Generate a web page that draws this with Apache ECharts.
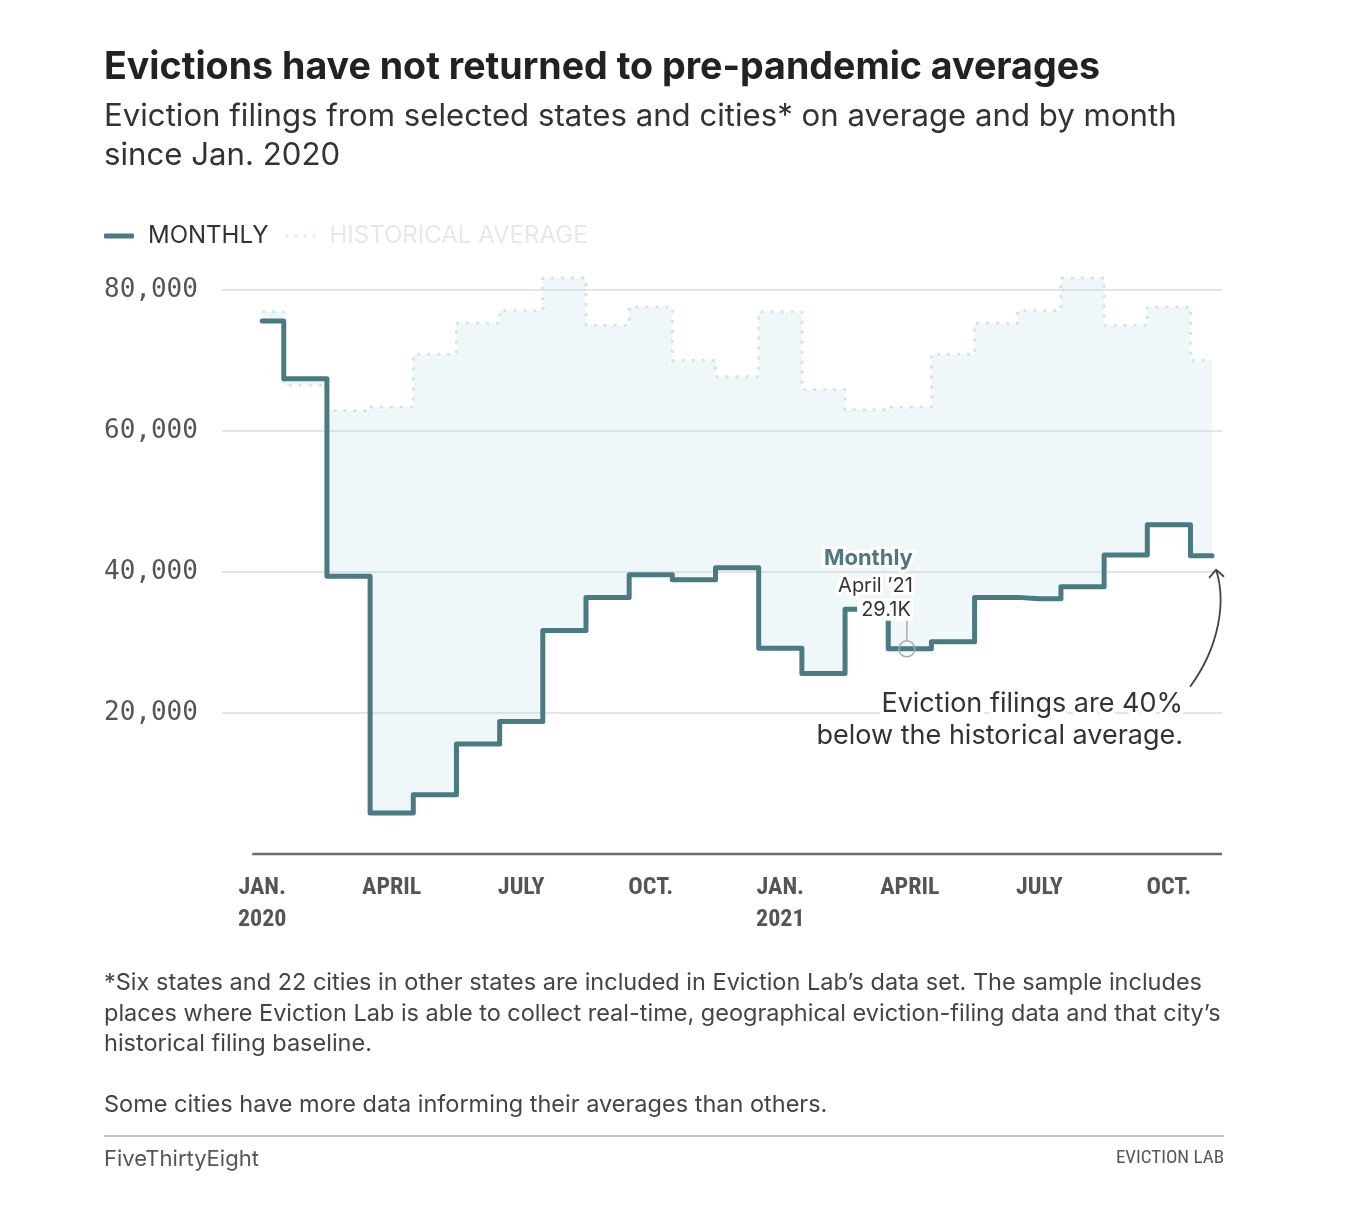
<!DOCTYPE html>
<html>
<head>
<meta charset="utf-8">
<script src="https://cdn.jsdelivr.net/npm/echarts@6/dist/echarts.min.js"></script>
<style>
html,body{margin:0;padding:0;background:#fff;}
#chart{width:1348px;height:1220px;}
</style>
</head>
<body>
<div id="chart"></div>
<script>
// ---- Data ----
const months = ['Jan 2020','Feb 2020','Mar 2020','Apr 2020','May 2020','Jun 2020','Jul 2020','Aug 2020','Sep 2020','Oct 2020','Nov 2020','Dec 2020',
                'Jan 2021','Feb 2021','Mar 2021','Apr 2021','May 2021','Jun 2021','Jul 2021','Aug 2021','Sep 2021','Oct 2021','Nov 2021'];
const monthly = [75600, 67400, 39400, 5800, 8400, 15600, 18800, 31700, 36400, 39600, 38900, 40600,
                 29200, 25600, 34700, 29100, 30100, 36400, 36200, 37900, 42400, 46700, 42300];
const historical = [76900, 66500, 62900, 63400, 70900, 75300, 77100, 81700, 75000, 77600, 70000, 67700,
                    76900, 65900, 63000, 63400, 70900, 75300, 77100, 81700, 75000, 77600, 70000];
const xTickIndex = [0, 3, 6, 9, 12, 15, 18, 21];
const xTickLabels = ['JAN.\n2020', 'APRIL', 'JULY', 'OCT.', 'JAN.\n2021', 'APRIL', 'JULY', 'OCT.'];
const highlightIndex = 15;           // April '21
const highlightLabel = ['Monthly', 'April ’21', '29.1K'];

// ---- Styles ----
const TEAL = '#4a7a82';
const HIST = '#d2e6ea';
const FILL = 'rgba(175,215,225,0.19)';
const SANS = "Inter, Roboto, sans-serif";
const COND = "'Liberation Sans Narrow', 'Roboto Condensed', Roboto, sans-serif";
const MONO = "'DejaVu Sans Mono', monospace";

function stepPts(vals) {
  const pts = [];
  const n = vals.length;
  for (let i = 0; i < n; i++) {
    const x0 = Math.max(0, i - 0.5), x1 = Math.min(n - 1, i + 0.5);
    pts.push([x0, vals[i]]);
    pts.push([x1, vals[i]]);
  }
  return pts;
}

const chart = echarts.init(document.getElementById('chart'), null, {renderer: 'canvas'});

const option = {
  backgroundColor: '#fff',
  animation: false,
  title: [
    {text: 'Evictions have not returned to pre-pandemic averages', left: 104, top: 48, padding: 0,
     textStyle: {fontFamily: SANS, fontWeight: 'bold', fontSize: 37.6, lineHeight: 40, color: '#222'}},
    {text: 'Eviction filings from selected states and cities* on average and by month\nsince Jan. 2020', left: 104, top: 97, padding: 0,
     textStyle: {fontFamily: SANS, fontWeight: 'normal', fontSize: 31.2, lineHeight: 39, color: '#333'}},
    {text: '*Six states and 22 cities in other states are included in Eviction Lab’s data set. The sample includes\nplaces where Eviction Lab is able to collect real-time, geographical eviction-filing data and that city’s\nhistorical filing baseline.',
     left: 104, top: 968, padding: 0,
     textStyle: {fontFamily: SANS, fontWeight: 'normal', fontSize: 23.5, lineHeight: 30.5, color: '#444'}},
    {text: 'Some cities have more data informing their averages than others.', left: 104, top: 1090, padding: 0,
     textStyle: {fontFamily: SANS, fontWeight: 'normal', fontSize: 23.5, lineHeight: 30, color: '#444'}},
    {text: 'FiveThirtyEight', left: 104, top: 1147, padding: 0,
     textStyle: {fontFamily: SANS, fontWeight: 'normal', fontSize: 22, lineHeight: 24, color: '#555'}},
    {text: 'EVICTION LAB', right: 124, top: 1146, padding: 0,
     textStyle: {fontFamily: COND, fontWeight: 'normal', fontSize: 19, lineHeight: 24, color: '#555'}}
  ],
  legend: {
    left: 104, top: 224, padding: 0, itemWidth: 30, itemHeight: 5, itemGap: 17,
    selectedMode: false,
    data: [
      {name: 'MONTHLY', icon: 'roundRect', itemStyle: {color: TEAL}, textStyle: {color: '#333'}},
      {name: 'HISTORICAL AVERAGE', icon: 'path://M0,0h3v3h-3z M9,0h3v3h-3z M18,0h3v3h-3z M27,0h3v3h-3z',
       itemStyle: {color: '#e2eff2'}, textStyle: {color: '#e4eaec'}}
    ],
    textStyle: {fontFamily: SANS, fontSize: 24, padding: [0, 0, 0, 9]}
  },
  grid: {left: 222, right: 126, top: 290, bottom: 366},
  xAxis: {
    type: 'value', min: -0.93, max: 22.23,
    axisLine: {show: false}, axisTick: {show: false}, splitLine: {show: false},
    axisLabel: {
      customValues: xTickIndex,
      formatter: v => { const k = xTickIndex.indexOf(Math.round(v)); return k >= 0 ? xTickLabels[k] : ''; },
      margin: 18, fontFamily: COND, fontWeight: 'bold', fontSize: 24, lineHeight: 32, color: '#555'
    }
  },
  yAxis: {
    type: 'value', min: 0, max: 80000, interval: 20000,
    axisLine: {show: false}, axisTick: {show: false},
    splitLine: {show: true, showMinLine: false, lineStyle: {color: '#dcdcdc', width: 1.5}},
    axisLabel: {
      align: 'left', margin: 118, fontFamily: MONO, fontSize: 26, color: '#555',
      formatter: v => v === 0 ? '' : v.toLocaleString('en-US')
    }
  },
  series: [
    {
      type: 'custom', name: 'fill', coordinateSystem: 'cartesian2d', silent: true, z: 1, clip: false,
      data: [[0, 0]],
      renderItem: (params, api) => {
        const up = stepPts(historical).map(p => api.coord(p));
        const lo = stepPts(monthly).map(p => api.coord(p)).reverse();
        const a = api.coord([-0.23, 0]), b = api.coord([22.23, 0]);
        return {
          type: 'group',
          children: [
            {type: 'polygon', shape: {points: up.concat(lo)}, style: {fill: FILL, stroke: null}},
            {type: 'line', shape: {x1: a[0], y1: a[1], x2: b[0], y2: b[1]}, style: {stroke: '#6b6b6b', lineWidth: 2.5}}
          ]
        };
      }
    },
    {
      type: 'line', name: 'HISTORICAL AVERAGE', step: 'middle', z: 2, clip: false,
      data: historical.map((v, i) => [i, v]),
      symbol: 'none', showSymbol: false, silent: true,
      lineStyle: {color: HIST, width: 3, type: [3, 7], cap: 'butt'},
      itemStyle: {color: HIST}
    },
    {
      type: 'line', name: 'MONTHLY', step: 'middle', z: 3, clip: false,
      data: monthly.map((v, i) => [i, v]),
      symbol: 'none', showSymbol: false, silent: true,
      lineStyle: {color: TEAL, width: 5, cap: 'round', join: 'round'},
      itemStyle: {color: TEAL}
    }
  ]
};
chart.setOption(option);

// ---- Annotations positioned from the chart's own scales ----
const hp = chart.convertToPixel({gridIndex: 0}, [highlightIndex, monthly[highlightIndex]]);
const last = monthly.length - 1;
const lp = chart.convertToPixel({gridIndex: 0}, [last, monthly[last]]);
const g20 = chart.convertToPixel({gridIndex: 0}, [last, 20000]);

chart.setOption({
  graphic: [
    {type: 'circle', z: 50, shape: {cx: hp[0] - 3, cy: hp[1], r: 8}, style: {fill: 'none', stroke: '#aaa', lineWidth: 1.5}},
    {type: 'line', z: 50, shape: {x1: hp[0] - 3, y1: hp[1] - 30, x2: hp[0] - 3, y2: hp[1] - 9}, style: {stroke: '#aaa', lineWidth: 1.5}},
    {type: 'text', z: 60, x: hp[0] + 3, y: hp[1] - 90,
     style: {text: highlightLabel[0], fill: TEAL, font: "bold 22px " + SANS, align: 'right', verticalAlign: 'middle', stroke: '#fff', lineWidth: 6}},
    {type: 'text', z: 60, x: hp[0] + 3, y: hp[1] - 63,
     style: {text: highlightLabel[1], fill: '#333', font: "20px " + SANS, align: 'right', verticalAlign: 'middle', stroke: '#fff', lineWidth: 6}},
    {type: 'text', z: 60, x: hp[0] + 3, y: hp[1] - 39,
     style: {text: highlightLabel[2], fill: '#333', font: "20px " + SANS, align: 'right', verticalAlign: 'middle', backgroundColor: '#fff', padding: [1, 2, 1, 4]}},
    {type: 'text', z: 60, x: lp[0] - 29, y: g20[1] - 9,
     style: {text: 'Eviction filings are 40%', fill: '#333', font: "27px " + SANS, align: 'right', verticalAlign: 'middle', stroke: '#fff', lineWidth: 8}},
    {type: 'text', z: 60, x: lp[0] - 29, y: g20[1] + 23,
     style: {text: 'below the historical average.', fill: '#333', font: "27px " + SANS, align: 'right', verticalAlign: 'middle', stroke: '#fff', lineWidth: 8}},
    {type: 'bezierCurve', z: 55,
     shape: {x1: lp[0] - 22, y1: lp[1] + 131, cpx1: lp[0] + 8, cpy1: lp[1] + 90, cpx2: lp[0] + 14, cpy2: lp[1] + 45, x2: lp[0] + 4, y2: lp[1] + 14},
     style: {stroke: '#444', lineWidth: 1.8, fill: 'none'}},
    {type: 'polyline', z: 55,
     shape: {points: [[lp[0] - 3, lp[1] + 22], [lp[0] + 4, lp[1] + 14], [lp[0] + 12, lp[1] + 21]]},
     style: {stroke: '#444', lineWidth: 1.8, fill: 'none'}},
    {type: 'line', z: 40, shape: {x1: 104, y1: 1136, x2: 1224, y2: 1136}, style: {stroke: '#c4c4c4', lineWidth: 2}}
  ]
});
</script>
</body>
</html>
